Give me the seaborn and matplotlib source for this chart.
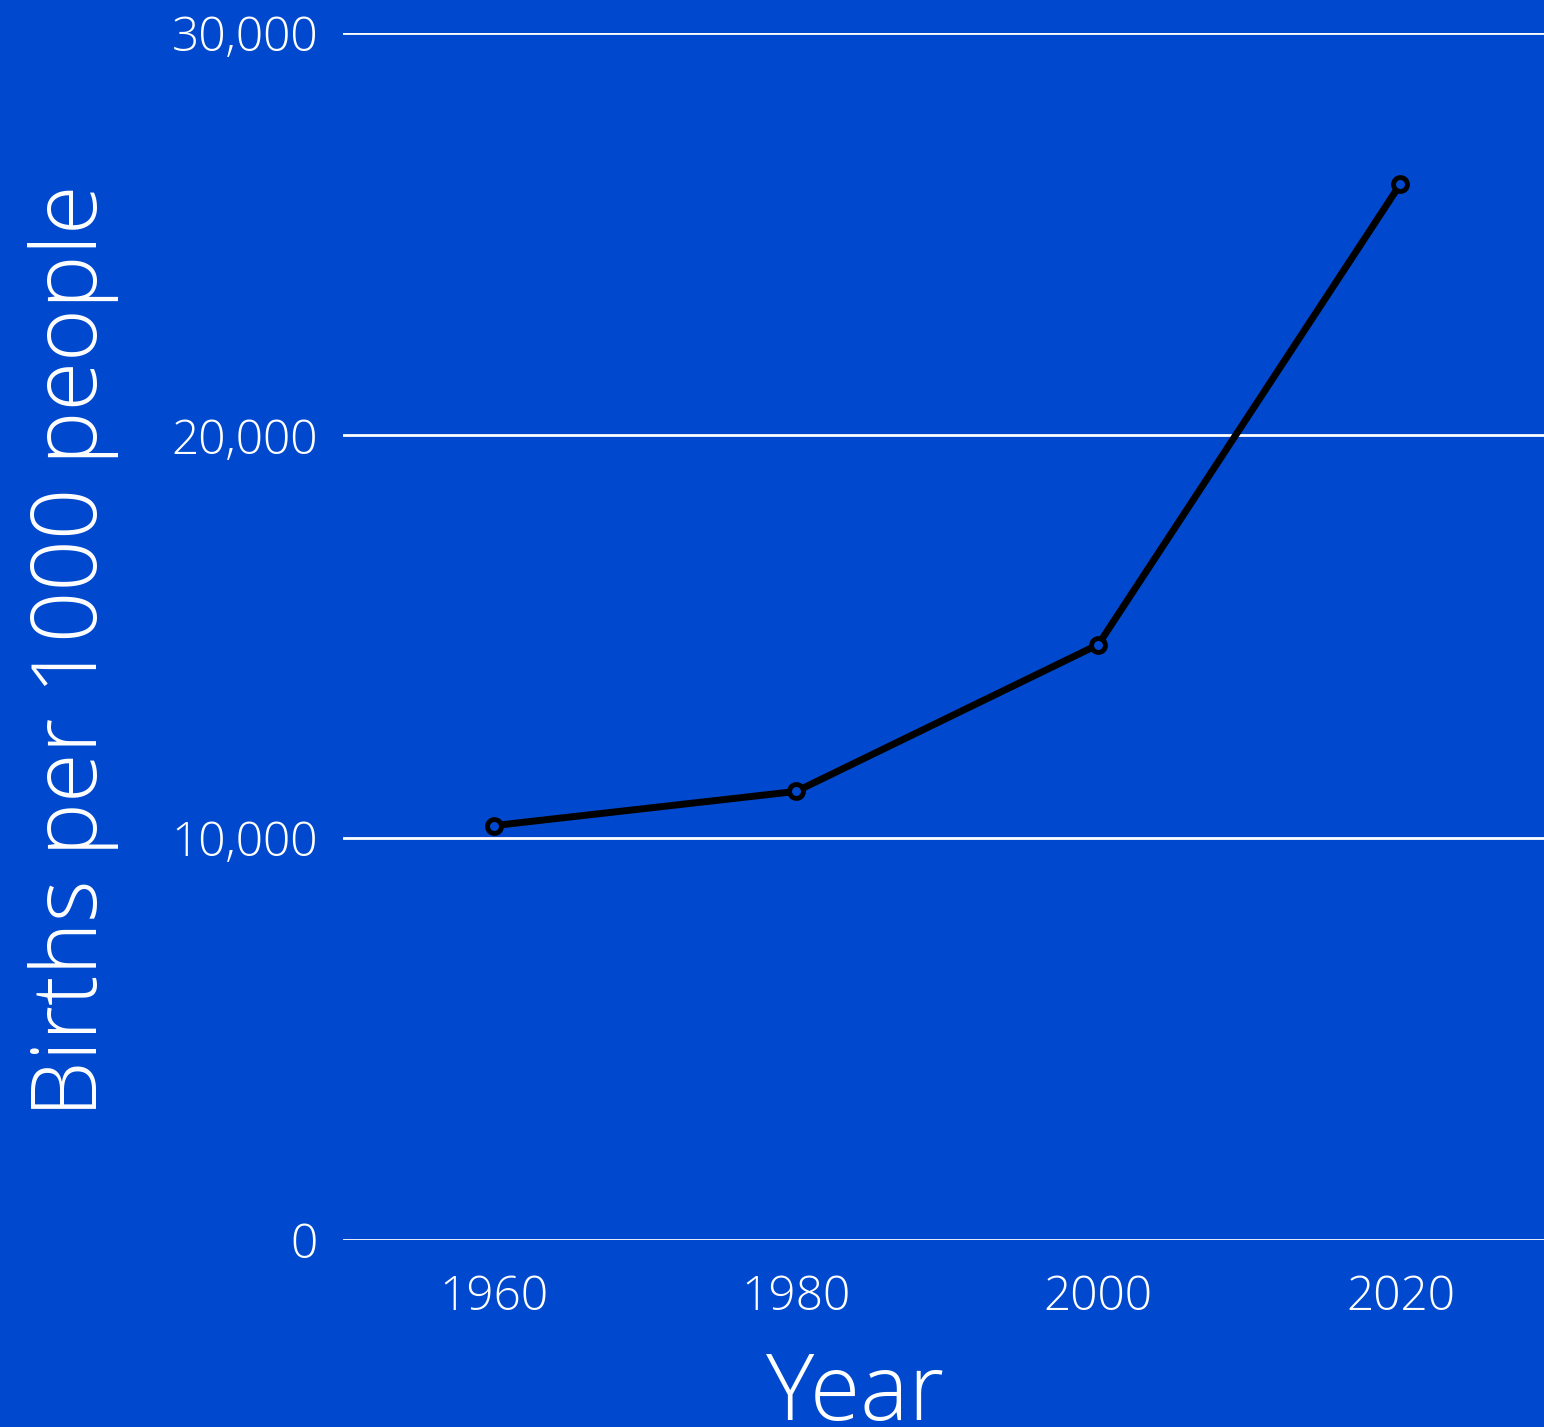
import numpy as np
import pandas as pd
import seaborn as sns
import matplotlib.pyplot as plt
from matplotlib.ticker import FuncFormatter

# data
years = [1960, 1980, 2000, 2020]
births = [10300, 11150, 14800, 26250]
y_ticks = [0, 10000, 20000, 30000]

df = pd.DataFrame({'Year': years, 'Births': births})

bg = '#0049CE'
sns.set_theme(style='white')
plt.rcParams['font.family'] = ['Open Sans', 'DejaVu Sans']
plt.rcParams['font.weight'] = 'light'

fig = plt.figure(figsize=(15.44, 14.27), dpi=100, facecolor=bg)
ax = fig.add_axes([343 / 1544, 187 / 1427, 1 - 343 / 1544, 1207 / 1427])
ax.set_facecolor(bg)

sns.lineplot(data=df, x='Year', y='Births', ax=ax, color='black', linewidth=5,
             marker='o', markersize=10, markerfacecolor=bg,
             markeredgecolor='black', markeredgewidth=3.5, zorder=3)

ax.set_xlim(1950, 2029.5)
ax.set_ylim(0, 30000)
ax.set_xticks(years)
ax.set_yticks(y_ticks)
ax.yaxis.set_major_formatter(FuncFormatter(lambda v, p: f'{int(v):,}'))
ax.grid(axis='y', color='white', linewidth=2)
ax.grid(axis='x', visible=False)
for s in ax.spines.values():
    s.set_visible(False)

ax.tick_params(axis='both', length=0, labelsize=34.5, labelcolor='white')
ax.tick_params(axis='y', pad=18)
ax.tick_params(axis='x', pad=24)
for lab in ax.get_xticklabels() + ax.get_yticklabels():
    lab.set_fontweight('light')

# x label sits low, its baseline near the bottom edge
ax.set_xlabel('Year', fontsize=66, color='white', fontweight='light')
ax.xaxis.set_label_coords((855 - 343) / 1201, (1240 - 1420) / 1207)
ax.xaxis.label.set_va('baseline')
ax.set_ylabel('Births per 1000 people', fontsize=65, color='white', fontweight='light')
ax.yaxis.set_label_coords(-(343 - 28) / 1201, (1240 - 651) / 1207)
ax.yaxis.label.set_va('top')

fig.savefig('out.png', dpi=100, facecolor=bg)
